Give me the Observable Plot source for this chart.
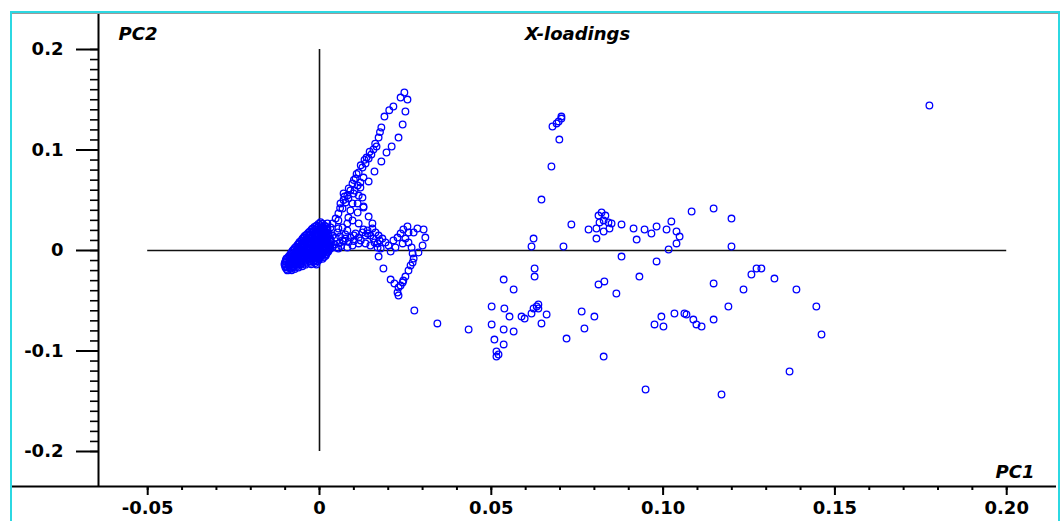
<!DOCTYPE html>
<html><head><meta charset="utf-8">
<script src="https://cdn.jsdelivr.net/npm/d3@7"></script>
<script src="https://cdn.jsdelivr.net/npm/@observablehq/plot@0.6"></script>
<style>
html,body{margin:0;padding:0;background:#fff;}
#wrap{position:relative;width:1063px;height:521px;overflow:hidden;background:#fff;}
#border{position:absolute;left:10px;top:11px;width:1046px;height:620px;border:2px solid #2cd8e2;border-bottom:none;box-shadow:inset 0 1px 0 #9a9a9a;pointer-events:none;}
g[aria-label="axis-title"] text{letter-spacing:0.8px;}
</style></head><body>
<div id="wrap"><div id="chart"></div><div id="border"></div></div>
<script>
// ---- tick values / labels ----
const xMajor = [-0.05, 0, 0.05, 0.10, 0.15, 0.20];
const xTickLabels = ["-0.05", "0", "0.05", "0.10", "0.15", "0.20"];
const yMajor = [0.2, 0.1, 0, -0.1, -0.2];
const yTickLabels = ["0.2", "0.1", "0", "-0.1", "-0.2"];
const xMinor = d3.range(-5, 21).map(i => i / 100);
const yMinor = d3.range(-20, 21).map(i => i / 100);

// ---- X-loadings: outlying variables (PC1, PC2) ----
const farPC1 = [0.1775,0.0678,0.0690,0.0696,0.0704,0.0704,0.0698,0.0675,0.0646,0.0623,
0.0617,0.0710,0.0733,0.0812,0.0821,0.0832,0.0827,0.0815,0.0841,0.0850,
0.0806,0.0827,0.0844,0.0783,0.0806,0.0879,0.0914,0.0946,0.0966,0.0981,
0.0923,0.1010,0.1024,0.1039,0.1048,0.1039,0.1016,0.1083,0.1147,0.1199,
0.1199,0.0879,0.0981,0.0931,0.0626,0.0626,0.0536,0.0565,0.0812,0.0829,
0.0864,0.1257,0.1272,0.1286,0.1324,0.1234,0.1388,0.1147,0.1190,0.1446,
0.1461,0.1368,0.1170,0.0949,0.1147,0.0501,0.0538,0.0553,0.0588,0.0597,
0.0617,0.0623,0.0632,0.0637,0.0661,0.0646,0.0763,0.0800,0.0771,0.0719,
0.0827,0.0501,0.0536,0.0565,0.0434,0.0509,0.0536,0.0515,0.0521,0.0515,
0.0995,0.0975,0.1001,0.1033,0.1062,0.1068,0.1088,0.1097,0.1112,0.0343,
0.0276,0.0637];
const farPC2 = [0.1443,0.1234,0.1264,0.1284,0.1313,0.1333,0.1104,0.0836,0.0507,0.0119,
0.0040,0.0040,0.0259,0.0348,0.0378,0.0348,0.0299,0.0279,0.0279,0.0269,
0.0219,0.0189,0.0219,0.0209,0.0119,0.0259,0.0219,0.0209,0.0169,0.0239,
0.0109,0.0209,0.0289,0.0189,0.0139,0.0070,0.0010,0.0388,0.0418,0.0318,
0.0040,-0.0060,-0.0109,-0.0259,-0.0179,-0.0259,-0.0289,-0.0388,-0.0338,-0.0308,
-0.0428,-0.0239,-0.0179,-0.0179,-0.0279,-0.0388,-0.0388,-0.0328,-0.0557,-0.0557,
-0.0836,-0.1204,-0.1433,-0.1383,-0.0687,-0.0557,-0.0577,-0.0657,-0.0657,-0.0677,
-0.0627,-0.0577,-0.0557,-0.0537,-0.0637,-0.0726,-0.0607,-0.0657,-0.0776,-0.0876,
-0.1055,-0.0736,-0.0786,-0.0806,-0.0786,-0.0886,-0.0935,-0.1005,-0.1035,-0.1055,
-0.0657,-0.0736,-0.0756,-0.0627,-0.0627,-0.0637,-0.0687,-0.0736,-0.0756,-0.0726,
-0.0597,-0.0577];

// ---- upper arm ----
const armPC1 = [0.0247,0.0236,0.0256,0.0215,0.0250,0.0189,0.0242,0.0180,0.0230,0.0172,
0.0210,0.0166,0.0195,0.0157,0.0180,0.0160,0.0143,0.0151,0.0143,0.0134,
0.0125,0.0114,0.0119,0.0111,0.0128,0.0105,0.0096,0.0090,0.0119,0.0114,
0.0081,0.0076,0.0067,0.0055,0.0047,0.0038,0.0023,0.0012,0.0096,0.0090,
0.0084,0.0081,0.0067,0.0052,0.0038,0.0128,0.0137,0.0102,0.0073,0.0061,
0.0070,0.0084,0.0055,0.0096,0.0032,0.0055,0.0081,0.0090,0.0067,0.0047,
0.0026,0.0012,0.0023,0.0009,0.0111,0.0111,0.0099,
0.0060,0.0070,0.0085,0.0100,0.0108,0.0120,0.0131,0.0146,0.0162,0.0176,0.0203];
const armPC2 = [0.1572,0.1522,0.1502,0.1433,0.1383,0.1333,0.1254,0.1224,0.1124,0.1124,
0.1035,0.1035,0.0975,0.1005,0.0886,0.0786,0.0687,0.0955,0.0915,0.0866,
0.0826,0.0776,0.0677,0.0647,0.0726,0.0716,0.0667,0.0597,0.0627,0.0547,
0.0547,0.0478,0.0418,0.0368,0.0318,0.0269,0.0219,0.0169,0.0468,0.0398,
0.0328,0.0269,0.0229,0.0179,0.0149,0.0428,0.0925,0.0597,0.0537,0.0468,
0.0567,0.0517,0.0299,0.0299,0.0229,0.0219,0.0199,0.0129,0.0100,0.0129,
0.0169,0.0100,0.0269,0.0229,0.0468,0.0378,0.0567,
0.0422,0.0503,0.0618,0.0702,0.0761,0.0848,0.0902,0.0983,0.1062,0.1178,0.1396];

// ---- middle strand ----
const midPC1 = [0.0076,0.0114,0.0134,0.0148,0.0157,0.0134,0.0148,0.0169,0.0081,0.0055,0.0038,0.0105,0.0114,0.0096,
0.0044,0.0058,0.0070,0.0085,0.0100,0.0120,0.0125,0.0140,0.0100,0.0160,0.0175,0.0060,0.0075,0.0050,0.0063];
const midPC2 = [0.0119,0.0129,0.0149,0.0149,0.0119,0.0070,0.0050,0.0030,0.0030,0.0020,0.0030,0.0169,0.0070,0.0050,
0.0060,0.0075,0.0090,0.0085,0.0095,0.0100,0.0180,0.0200,0.0150,0.0080,0.0100,0.0140,0.0160,0.0030,0.0045];

// ---- lobe ----
const lobePC1 = [0.0125,0.0128,0.0143,0.0154,0.0114,0.0128,0.0140,0.0154,0.0163,0.0172,
0.0183,0.0192,0.0201,0.0169,0.0178,0.0207,0.0172,0.0186,0.0207,0.0218,
0.0230,0.0230,0.0242,0.0250,0.0259,0.0265,0.0274,0.0271,0.0268,0.0259,
0.0300,0.0308,0.0303,0.0285,0.0256,0.0244,0.0236,0.0227,0.0215,0.0242,
0.0250,0.0259,0.0288,0.0271,0.0244,0.0236,0.0227,0.0274,0.0221];
const lobePC2 = [0.0527,0.0438,0.0338,0.0269,0.0269,0.0209,0.0169,0.0219,0.0179,0.0149,
0.0119,0.0080,0.0050,0.0070,0.0020,-0.0010,-0.0060,-0.0179,-0.0289,-0.0328,
-0.0368,-0.0448,-0.0318,-0.0259,-0.0199,-0.0149,-0.0080,-0.0030,0.0030,0.0080,
0.0050,0.0129,0.0209,0.0219,0.0239,0.0209,0.0169,0.0129,0.0100,0.0070,
0.0119,0.0179,-0.0020,-0.0119,-0.0299,-0.0348,-0.0418,0.0179,0.0030];

// ---- dense core near origin ----
const corePC1 = [
0.0003,
-0.0009,0.0004,0.0016,
-0.0021,-0.0008,0.0002,0.0014,
-0.0029,-0.0018,-0.0005,0.0007,0.0018,
-0.0038,-0.0027,-0.0014,-0.0002,0.0010,0.0021,
-0.0047,-0.0034,-0.0023,-0.0011,0.0001,0.0012,0.0024,
-0.0053,-0.0040,-0.0029,-0.0016,-0.0005,0.0007,0.0018,0.0030,
-0.0061,-0.0050,-0.0037,-0.0026,-0.0014,-0.0003,0.0010,0.0021,0.0032,
-0.0068,-0.0055,-0.0043,-0.0032,-0.0020,-0.0008,0.0003,0.0016,0.0027,
-0.0076,-0.0064,-0.0052,-0.0040,-0.0029,-0.0017,-0.0005,0.0007,0.0018,0.0029,
-0.0082,-0.0069,-0.0058,-0.0046,-0.0035,-0.0022,-0.0011,0.0001,0.0012,0.0024,
-0.0087,-0.0075,-0.0064,-0.0052,-0.0040,-0.0029,-0.0017,-0.0005,0.0006,0.0018,
-0.0096,-0.0084,-0.0072,-0.0061,-0.0049,-0.0037,-0.0026,-0.0014,-0.0003,0.0009,
-0.0099,-0.0087,-0.0075,-0.0064,-0.0052,-0.0041,-0.0029,-0.0017,-0.0006,
-0.0102,-0.0090,-0.0079,-0.0067,-0.0055,-0.0041,-0.0024,-0.0009,
-0.0099,-0.0087,-0.0076,-0.0061,
-0.0093,-0.0081];
const corePC2 = [
0.0281,
0.0246,0.0252,0.0244,
0.0217,0.0222,0.0214,0.0220,
0.0186,0.0192,0.0187,0.0191,0.0185,
0.0157,0.0161,0.0156,0.0162,0.0158,0.0155,
0.0127,0.0131,0.0126,0.0132,0.0128,0.0125,0.0130,
0.0098,0.0102,0.0097,0.0101,0.0099,0.0103,0.0096,0.0100,
0.0068,0.0072,0.0067,0.0071,0.0069,0.0073,0.0068,0.0070,0.0066,
0.0038,0.0042,0.0039,0.0043,0.0037,0.0041,0.0038,0.0042,0.0039,
0.0009,0.0012,0.0008,0.0011,0.0007,0.0012,0.0009,0.0011,0.0008,0.0012,
-0.0021,-0.0018,-0.0022,-0.0019,-0.0021,-0.0018,-0.0022,-0.0019,-0.0021,-0.0017,
-0.0049,-0.0052,-0.0048,-0.0051,-0.0049,-0.0053,-0.0048,-0.0051,-0.0049,-0.0052,
-0.0079,-0.0082,-0.0078,-0.0081,-0.0079,-0.0083,-0.0078,-0.0081,-0.0079,-0.0082,
-0.0108,-0.0111,-0.0107,-0.0110,-0.0108,-0.0112,-0.0107,-0.0110,-0.0108,
-0.0138,-0.0141,-0.0137,-0.0140,-0.0138,-0.0141,-0.0137,-0.0140,
-0.0168,-0.0171,-0.0167,-0.0170,
-0.0198,-0.0196];

// ---- second layer of the dense core ----
const core2PC1 = [
-0.0003,0.0009,
-0.0015,-0.0003,0.0009,0.0020,
-0.0024,-0.0012,0.0000,0.0012,0.0023,
-0.0033,-0.0021,-0.0009,0.0003,0.0015,0.0026,
-0.0043,-0.0031,-0.0020,-0.0008,0.0004,0.0016,0.0027,
-0.0050,-0.0038,-0.0026,-0.0015,-0.0003,0.0009,0.0021,0.0032,
-0.0058,-0.0046,-0.0034,-0.0023,-0.0011,0.0001,0.0013,0.0024,0.0034,
-0.0064,-0.0052,-0.0041,-0.0029,-0.0017,-0.0006,0.0006,0.0018,0.0029,
-0.0072,-0.0061,-0.0049,-0.0037,-0.0026,-0.0014,-0.0002,0.0010,0.0021,0.0031,
-0.0079,-0.0067,-0.0055,-0.0044,-0.0032,-0.0020,-0.0008,0.0004,0.0015,0.0026,
-0.0084,-0.0073,-0.0061,-0.0049,-0.0038,-0.0026,-0.0014,-0.0002,0.0009,0.0020,
-0.0091,-0.0079,-0.0067,-0.0056,-0.0044,-0.0032,-0.0021,-0.0009,0.0003,0.0013,
-0.0098,-0.0085,-0.0073,-0.0061,-0.0050,-0.0038,-0.0026,-0.0014,-0.0002,
-0.0101,-0.0089,-0.0077,-0.0065,-0.0053,-0.0040,-0.0026,-0.0012,
-0.0100,-0.0088,-0.0076,-0.0064,-0.0050,
-0.0096,-0.0084,-0.0072];
const core2PC2 = [
0.0264,0.0266,
0.0234,0.0236,0.0232,0.0235,
0.0204,0.0206,0.0203,0.0205,0.0202,
0.0174,0.0176,0.0173,0.0175,0.0172,0.0174,
0.0144,0.0146,0.0143,0.0145,0.0142,0.0144,0.0146,
0.0114,0.0116,0.0113,0.0115,0.0112,0.0114,0.0116,0.0113,
0.0085,0.0087,0.0084,0.0086,0.0083,0.0085,0.0087,0.0084,0.0086,
0.0055,0.0057,0.0054,0.0056,0.0053,0.0055,0.0057,0.0054,0.0056,
0.0025,0.0027,0.0024,0.0026,0.0023,0.0025,0.0027,0.0024,0.0026,0.0023,
-0.0005,-0.0003,-0.0006,-0.0004,-0.0007,-0.0005,-0.0003,-0.0006,-0.0004,-0.0005,
-0.0035,-0.0033,-0.0036,-0.0034,-0.0037,-0.0035,-0.0033,-0.0036,-0.0034,-0.0035,
-0.0065,-0.0063,-0.0066,-0.0064,-0.0067,-0.0065,-0.0063,-0.0066,-0.0064,-0.0065,
-0.0095,-0.0093,-0.0096,-0.0094,-0.0097,-0.0095,-0.0093,-0.0096,-0.0094,
-0.0124,-0.0122,-0.0125,-0.0123,-0.0126,-0.0124,-0.0122,-0.0125,
-0.0154,-0.0152,-0.0155,-0.0153,-0.0156,
-0.0184,-0.0182,-0.0185];

const toRows = (xs, ys) => xs.map((x, i) => ({pc1: x, pc2: ys[i]}));
const points = [
  ...toRows(farPC1, farPC2),
  ...toRows(armPC1, armPC2),
  ...toRows(midPC1, midPC2),
  ...toRows(lobePC1, lobePC2),
  ...toRows(corePC1, corePC2),
  ...toRows(core2PC1, core2PC2)
];

const xFmt = new Map(xMajor.map((v, i) => [v, xTickLabels[i]]));
const yFmt = new Map(yMajor.map((v, i) => [v, yTickLabels[i]]));
const xDom = [-0.06432, 0.21449];
const yDom = [-0.23483, 0.23682];
const tickFont = {fontSize: 18, fontWeight: "bold", fontFamily: "DejaVu Sans"};
const titleFont = {fontSize: 18, fontStyle: "italic", fontWeight: "bold", fontFamily: "DejaVu Sans", fill: "#000", ariaLabel: "axis-title", lineAnchor: "bottom"};

const chart = Plot.plot({
  width: 1063, height: 521,
  marginLeft: 98, marginRight: 7, marginTop: 12, marginBottom: 35,
  x: {domain: xDom, label: null},
  y: {domain: yDom, label: null},
  style: {background: "white", color: "black", overflow: "visible"},
  marks: [
    Plot.ruleX([xDom[0]], {stroke: "#000", strokeWidth: 2}),
    Plot.ruleY([yDom[0]], {x1: -0.0899, x2: xDom[1], stroke: "#000", strokeWidth: 2}),
    Plot.axisX(xMinor, {anchor: "bottom", tickSize: 4, tickFormat: () => "", label: null, strokeWidth: 2}),
    Plot.axisX(xMajor, {anchor: "bottom", tickSize: 9, tickPadding: 6, tickFormat: d => xFmt.get(d), label: null, strokeWidth: 2, ...tickFont}),
    Plot.axisY(yMinor, {anchor: "left", tickSize: 8, tickFormat: () => "", label: null, strokeWidth: 1.6}),
    Plot.axisY(yMajor, {anchor: "left", tickSize: 22, tickPadding: 13, tickFormat: d => yFmt.get(d), label: null, strokeWidth: 2, ...tickFont}),
    Plot.ruleY([0], {x1: -0.05, x2: 0.20, stroke: "#111", strokeWidth: 1.6}),
    Plot.ruleX([0], {y1: -0.2, y2: 0.2, stroke: "#111", strokeWidth: 1.6}),
    Plot.dot(points, {x: "pc1", y: "pc2", r: 3.3, stroke: "#0000ff", strokeWidth: 1.3, fill: "none"}),
    Plot.text(["PC2"], {text: d => d, frameAnchor: "top-left", dx: 20, dy: 27, textAnchor: "start", ...titleFont}),
    Plot.text(["X-loadings"], {text: d => d, frameAnchor: "top", dx: 0, dy: 27, textAnchor: "middle", ...titleFont}),
    Plot.text(["PC1"], {text: d => d, frameAnchor: "bottom-right", dx: -22, dy: -9, textAnchor: "end", ...titleFont})
  ]
});
document.getElementById("chart").appendChild(chart);
</script>
</body></html>
